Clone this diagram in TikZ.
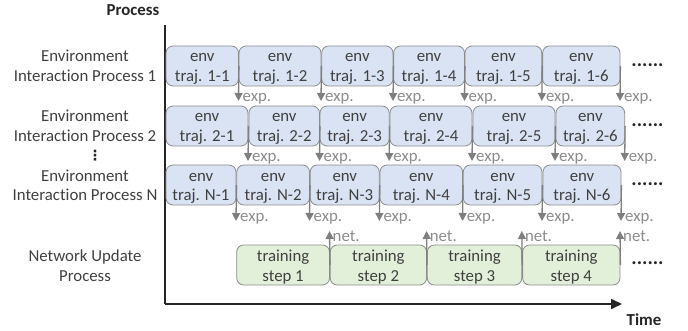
\documentclass[tikz,border=0pt]{standalone}
\usepackage{fontspec}
\setmainfont[Ligatures=CommonOff]{Carlito}
\newfontfamily\symfont{DejaVu Sans}
\usetikzlibrary{arrows.meta}
\definecolor{ink}{HTML}{404040}
\definecolor{gry}{HTML}{7F7F7F}
\definecolor{lblgry}{HTML}{8C8C8C}
\definecolor{blu}{HTML}{DAE3F3}
\definecolor{grn}{HTML}{E2F0D9}
\newcommand\twolines[2]{\rule{0pt}{15.5pt}#1\\#2\rule[-3.5pt]{0pt}{3.5pt}}
\tikzset{
  x=1pt,y=-1pt,
  txt/.style={font=\fontsize{16.8}{20}\selectfont,text=ink,align=center,inner sep=0pt},
  head/.style={font=\fontsize{16.8}{20}\selectfont\bfseries,text=black!85,inner sep=0pt,anchor=base},
  taskbox/.style={draw=gry!90,line width=0.8pt,rounded corners=7pt,txt,minimum height=40pt,inner sep=0pt},
  envbox/.style={taskbox,fill=blu},
  trainbox/.style={taskbox,fill=grn},
  flow/.style={draw=gry,line width=1.3pt,-{Triangle[length=8pt,width=8pt]},fill=gry},
  flowlbl/.style={font=\fontsize{16.8}{18}\selectfont,text=lblgry,inner sep=0pt,anchor=base west},
  axis/.style={draw=black!85,line width=1.6pt},
  more/.style={font=\fontsize{20}{20}\selectfont\bfseries,text=black!85,inner sep=0pt,anchor=base},
}
\begin{document}
\begin{tikzpicture}
\useasboundingbox (0,0) rectangle (688,331);
% axes
\coordinate (origin) at (165,304);
\coordinate (ytop) at (165,25);
\coordinate (xend) at (622,304);
\draw[axis] (ytop) -- (origin);
\draw[axis,-{Triangle[length=11pt,width=10pt]}] (origin) -- (xend);
\node[head] (ylab) at (133,16) {Process};
\node[head] (xlab) at (644,325) {Time};
% left labels
\node[txt] (p1) at (85,66) {\twolines{Environment}{Interaction Process 1}};
\node[txt] (p2) at (85,126) {\twolines{Environment}{Interaction Process 2}};
\node[txt] (pn) at (85,185) {\twolines{Environment}{Interaction Process N}};
\node[txt] (pu) at (85,265) {\twolines{Network Update}{Process}};
\node[font=\symfont\bfseries\fontsize{14}{14}\selectfont,text=black!85,inner sep=0pt] (vd) at (95,155.5) {⋮};
% rows
\foreach \i/\a/\b in {1/166/238.5,2/239/321,3/321.7/393,4/393.6/464.5,5/465/541.8,6/542.6/620}{
  \node[envbox,minimum width={(\b-\a)*1pt}] (A\i) at ({(\a+\b)/2},66) {\twolines{env}{traj. 1-\i}};
  \coordinate (AE\i) at (\b,101);
  \node[flowlbl] (AL\i) at (\b+4,102) {exp.};
}
\foreach \i/\a/\b in {1/166/248,2/249/319.5,3/320/389.2,4/390/472,5/473/555,6/556/624.7}{
  \node[envbox,minimum width={(\b-\a)*1pt}] (B\i) at ({(\a+\b)/2},126) {\twolines{env}{traj. 2-\i}};
  \coordinate (BE\i) at (\b,161);
  \node[flowlbl] (BL\i) at (\b+4,162) {exp.};
}
\foreach \i/\a/\b in {1/166/236,2/236.8/309.5,3/310.2/379.3,4/380/462.6,5/463.3/542,6/543/621}{
  \node[envbox,minimum width={(\b-\a)*1pt}] (C\i) at ({(\a+\b)/2},185) {\twolines{env}{traj. N-\i}};
  \coordinate (CE\i) at (\b,221);
  \node[flowlbl] (CL\i) at (\b+4,222) {exp.};
}
\foreach \i/\a/\b in {1/236.7/329.5,2/330.2/426.6,3/427.3/521.8,4/522.6/620}{
  \node[trainbox,minimum width={(\b-\a)*1pt}] (T\i) at ({(\a+\b)/2},265) {\twolines{training}{step \i}};
  \coordinate (TE\i) at (\b,231);
  \node[flowlbl] (TL\i) at (\b+3,241) {net.};
}
% connectors, above all the boxes
\foreach \r in {A,B,C}{
  \foreach \i in {1,...,6}{
    \draw[flow] (\r\i.east) -- (\r E\i);
  }
}
\foreach \i in {1,...,4}{
  \draw[flow] (T\i.east) -- (TE\i);
}
\node[more] (m1) at (647.5,66.5) {......};
\node[more] (m2) at (647.5,126.5) {......};
\node[more] (m3) at (647.5,185.5) {......};
\node[more] (m4) at (647.5,264.5) {......};
\end{tikzpicture}
\end{document}
